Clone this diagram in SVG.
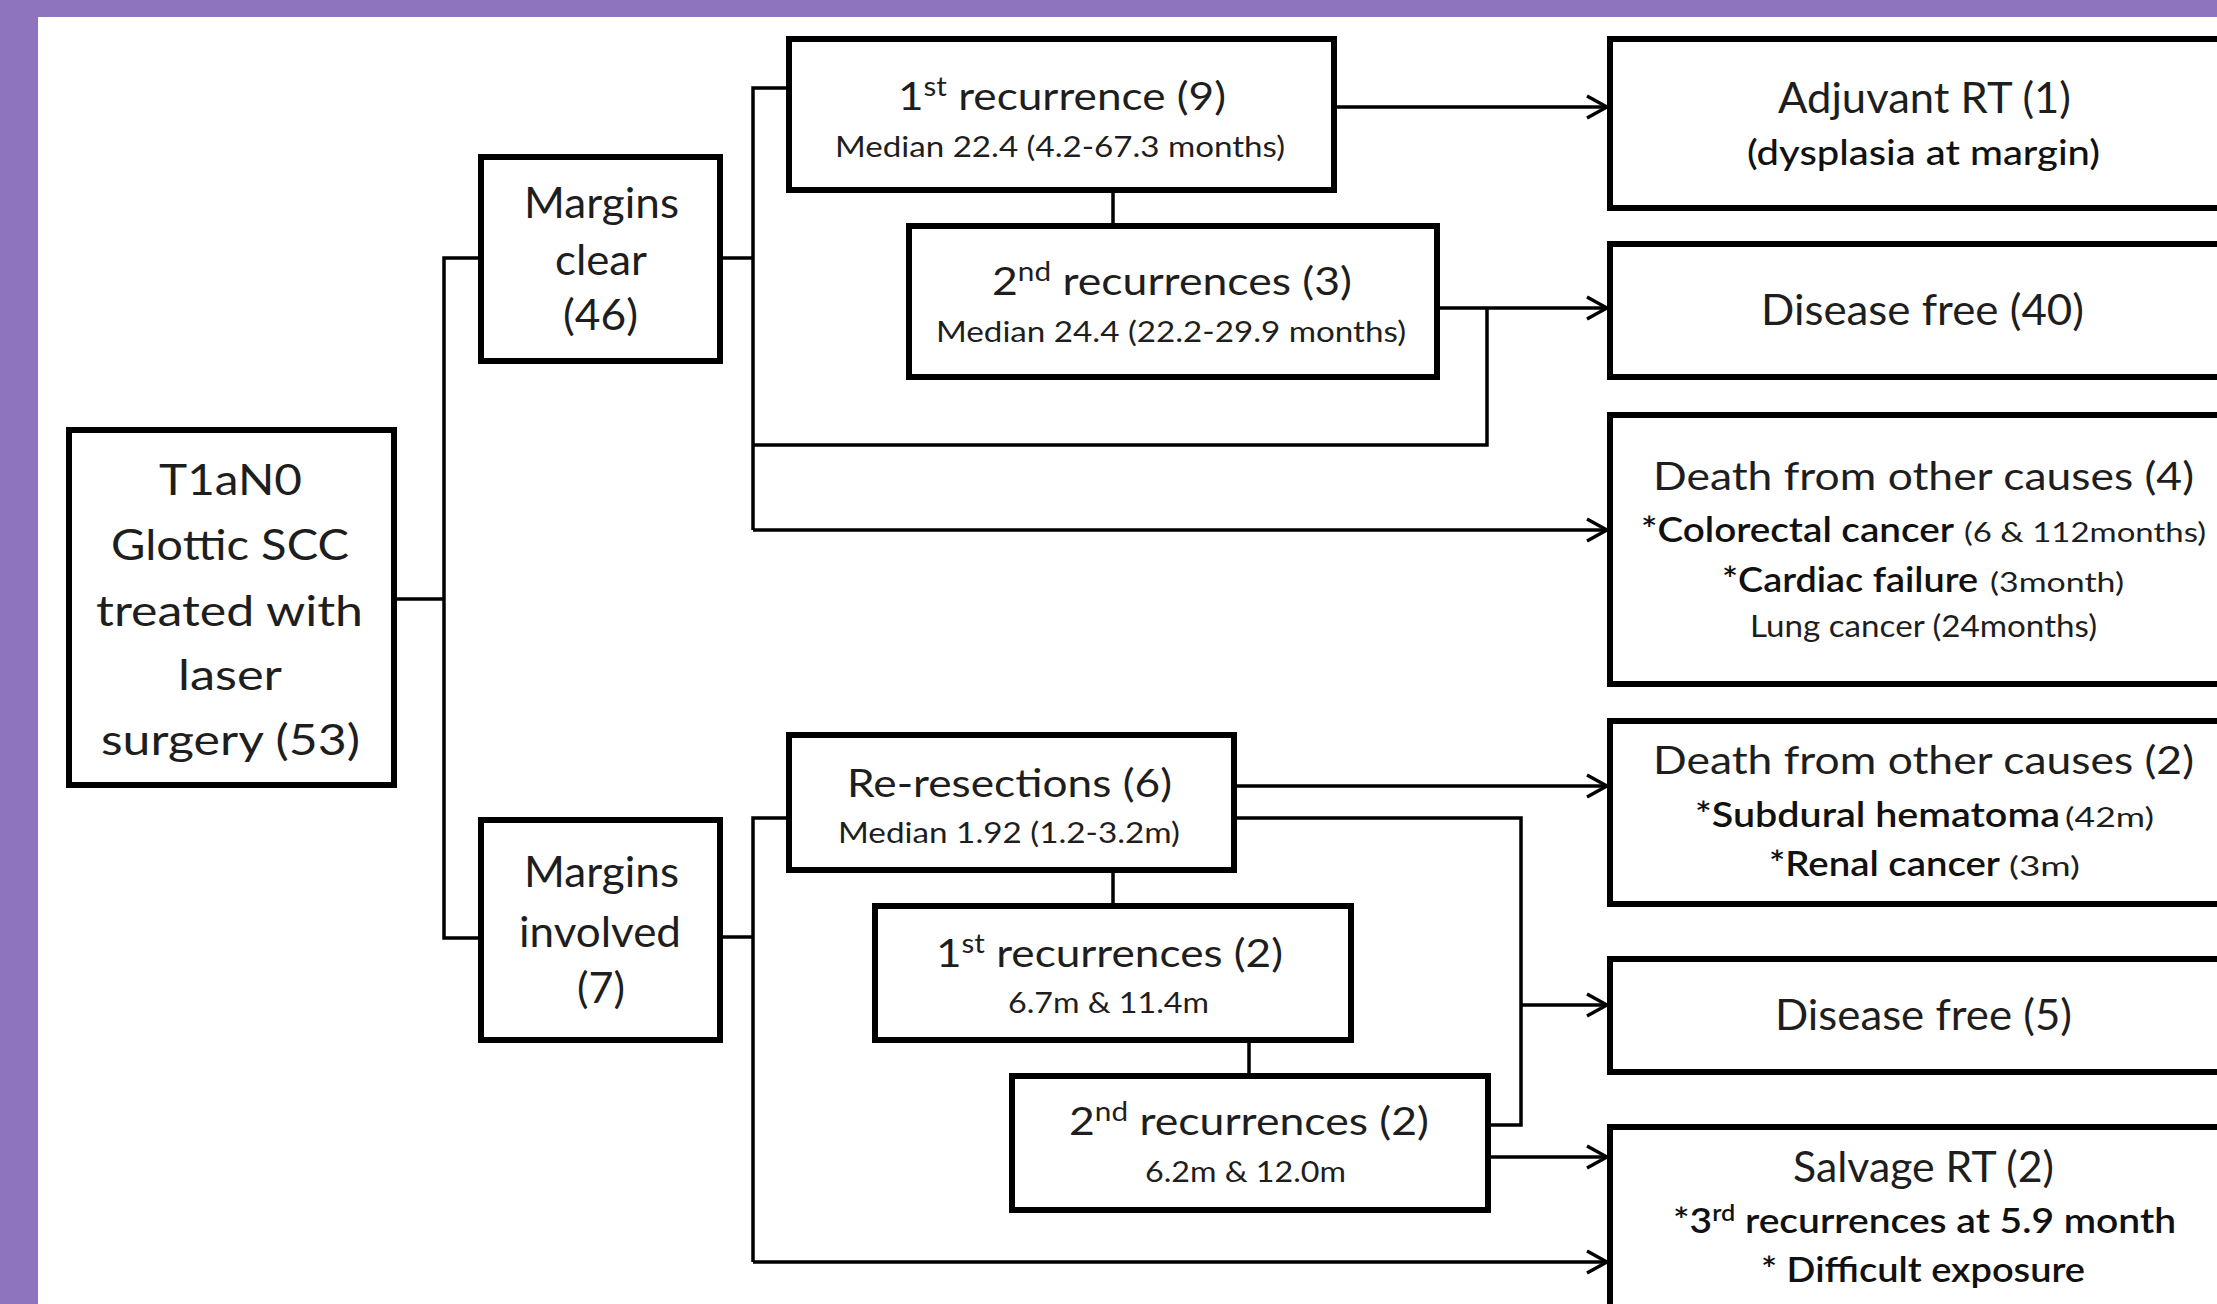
<svg xmlns="http://www.w3.org/2000/svg" width="2217" height="1304" viewBox="0 0 2217 1304">
<style>
.box{fill:#fff;stroke:#000;stroke-width:6}
.con{fill:none;stroke:#000;stroke-width:3.5}
.arr{fill:none;stroke:#000;stroke-width:3.5;marker-end:url(#ah)}
text{font-family:Lato,"Liberation Sans",sans-serif;fill:#1e1e1e}
.t{font-size:42px}
.h{font-size:39px}
.s{font-size:29px}
.b{font-size:34px;font-weight:600;fill:#111}
.m{font-size:34px;font-weight:500;fill:#111}
.p{font-size:27px}
</style>
<defs>
<marker id="ah" markerUnits="userSpaceOnUse" markerWidth="26" markerHeight="28" viewBox="-23 -14 26 28" refX="0" refY="0" orient="auto">
<path d="M-20,-11 L0,0 L-20,11" fill="none" stroke="#000" stroke-width="3.5"/>
</marker>
</defs>
<rect x="0" y="0" width="2217" height="1304" fill="#8E73BE"/>
<rect x="38" y="17" width="2179" height="1287" fill="#fff"/>

<g id="connectors">
<path class="con" d="M397,599 H444"/>
<path class="con" d="M478,258 H444 V938 H478"/>
<path class="con" d="M723,258 H753"/>
<path class="con" d="M786,88 H753 V530"/>
<path class="arr" d="M753,530 H1607"/>
<path class="con" d="M753,445 H1487 V308"/>
<path class="arr" d="M1440,308 H1607"/>
<path class="arr" d="M1337,107 H1607"/>
<path class="con" d="M1113,193 V223"/>
<path class="con" d="M723,937 H753"/>
<path class="con" d="M786,818 H753 V1262"/>
<path class="arr" d="M753,1262 H1607"/>
<path class="arr" d="M1237,786 H1607"/>
<path class="con" d="M1237,818 H1521 V1125 H1491"/>
<path class="arr" d="M1521,1005 H1607"/>
<path class="con" d="M1113,873 V903"/>
<path class="con" d="M1249,1043 V1073"/>
<path class="arr" d="M1491,1157 H1607"/>
</g>

<g id="root">
<rect class="box" x="69" y="430" width="325" height="355"/>
<text class="t" x="159" y="495" textLength="143" lengthAdjust="spacingAndGlyphs">T1aN0</text>
<text class="t" x="111" y="560" textLength="238" lengthAdjust="spacingAndGlyphs">Glottic SCC</text>
<text class="t" x="96" y="626" textLength="267" lengthAdjust="spacingAndGlyphs">treated with</text>
<text class="t" x="178" y="690" textLength="104" lengthAdjust="spacingAndGlyphs">laser</text>
<text class="t" x="101" y="755" textLength="259" lengthAdjust="spacingAndGlyphs">surgery (53)</text>
</g>

<g id="margins-clear">
<rect class="box" x="481" y="157" width="239" height="204"/>
<text class="t" x="524" y="218" textLength="155" lengthAdjust="spacingAndGlyphs">Margins</text>
<text class="t" x="555" y="275" textLength="92" lengthAdjust="spacingAndGlyphs">clear</text>
<text class="t" x="563" y="330" textLength="75" lengthAdjust="spacingAndGlyphs">(46)</text>
</g>

<g id="margins-involved">
<rect class="box" x="481" y="820" width="239" height="220"/>
<text class="t" x="524" y="887" textLength="155" lengthAdjust="spacingAndGlyphs">Margins</text>
<text class="t" x="519" y="947" textLength="162" lengthAdjust="spacingAndGlyphs">involved</text>
<text class="t" x="577" y="1003" textLength="48" lengthAdjust="spacingAndGlyphs">(7)</text>
</g>

<g id="first-recurrence">
<rect class="box" x="789" y="39" width="545" height="151"/>
<text class="h" x="898" y="110" textLength="328" lengthAdjust="spacingAndGlyphs">1<tspan font-size="26" dy="-14">st</tspan><tspan dy="14"> recurrence  (9)</tspan></text>
<text class="s" x="835" y="157" textLength="450" lengthAdjust="spacingAndGlyphs">Median 22.4 (4.2-67.3 months)</text>
</g>

<g id="second-recurrences">
<rect class="box" x="909" y="226" width="528" height="151"/>
<text class="h" x="992" y="295" textLength="360" lengthAdjust="spacingAndGlyphs">2<tspan font-size="26" dy="-14">nd</tspan><tspan dy="14"> recurrences  (3)</tspan></text>
<text class="s" x="936" y="342" textLength="470" lengthAdjust="spacingAndGlyphs">Median 24.4 (22.2-29.9 months)</text>
</g>

<g id="re-resections">
<rect class="box" x="789" y="735" width="445" height="135"/>
<text class="h" x="847" y="797" textLength="325" lengthAdjust="spacingAndGlyphs">Re-resections  (6)</text>
<text class="s" x="838" y="843" textLength="342" lengthAdjust="spacingAndGlyphs">Median 1.92 (1.2-3.2m)</text>
</g>

<g id="first-recurrences-involved">
<rect class="box" x="875" y="906" width="476" height="134"/>
<text class="h" x="936" y="967" textLength="347" lengthAdjust="spacingAndGlyphs">1<tspan font-size="26" dy="-14">st</tspan><tspan dy="14"> recurrences  (2)</tspan></text>
<text class="s" x="1008" y="1013" textLength="201" lengthAdjust="spacingAndGlyphs">6.7m &amp; 11.4m</text>
</g>

<g id="second-recurrences-involved">
<rect class="box" x="1012" y="1076" width="476" height="134"/>
<text class="h" x="1069" y="1135" textLength="360" lengthAdjust="spacingAndGlyphs">2<tspan font-size="26" dy="-14">nd</tspan><tspan dy="14"> recurrences  (2)</tspan></text>
<text class="s" x="1145" y="1182" textLength="201" lengthAdjust="spacingAndGlyphs">6.2m &amp; 12.0m</text>
</g>

<g id="adjuvant-rt">
<rect class="box" x="1610" y="39" width="640" height="169"/>
<text class="t" x="1778" y="113" textLength="293" lengthAdjust="spacingAndGlyphs">Adjuvant RT (1)</text>
<text class="m" x="1747" y="165" textLength="353" lengthAdjust="spacingAndGlyphs">(dysplasia at margin)</text>
</g>

<g id="disease-free-40">
<rect class="box" x="1610" y="244" width="640" height="133"/>
<text class="t" x="1761" y="325" textLength="323" lengthAdjust="spacingAndGlyphs">Disease free (40)</text>
</g>

<g id="death-4">
<rect class="box" x="1610" y="415" width="640" height="269"/>
<text class="h" x="1653" y="490" textLength="541" lengthAdjust="spacingAndGlyphs">Death from other causes (4)</text>
<text class="b" x="1641" y="542" textLength="313" lengthAdjust="spacingAndGlyphs">*Colorectal cancer</text>
<text class="p" x="1964" y="542" textLength="242" lengthAdjust="spacingAndGlyphs">(6 &amp; 112months)</text>
<text class="b" x="1722" y="592" textLength="256" lengthAdjust="spacingAndGlyphs">*Cardiac failure</text>
<text class="p" x="1990" y="592" textLength="134" lengthAdjust="spacingAndGlyphs">(3month)</text>
<text class="p" x="1750" y="637" textLength="347" lengthAdjust="spacingAndGlyphs" style="font-size:30px">Lung cancer (24months)</text>
</g>

<g id="death-2">
<rect class="box" x="1610" y="721" width="640" height="183"/>
<text class="h" x="1653" y="774" textLength="541" lengthAdjust="spacingAndGlyphs">Death from other causes (2)</text>
<text class="b" x="1695" y="827" textLength="365" lengthAdjust="spacingAndGlyphs">*Subdural hematoma</text>
<text class="p" x="2065" y="827" textLength="89" lengthAdjust="spacingAndGlyphs">(42m)</text>
<text class="b" x="1769" y="876" textLength="231" lengthAdjust="spacingAndGlyphs">*Renal cancer</text>
<text class="p" x="2009" y="876" textLength="71" lengthAdjust="spacingAndGlyphs">(3m)</text>
</g>

<g id="disease-free-5">
<rect class="box" x="1610" y="959" width="640" height="113"/>
<text class="t" x="1775" y="1030" textLength="297" lengthAdjust="spacingAndGlyphs">Disease free (5)</text>
</g>

<g id="salvage-rt">
<rect class="box" x="1610" y="1127" width="640" height="200"/>
<text class="t" x="1793" y="1182" textLength="261" lengthAdjust="spacingAndGlyphs">Salvage RT (2)</text>
<text class="b" x="1673" y="1233" textLength="503" lengthAdjust="spacingAndGlyphs">*3<tspan font-size="22" dy="-12">rd</tspan><tspan dy="12"> recurrences at 5.9 month</tspan></text>
<text class="b" x="1761" y="1282" textLength="324" lengthAdjust="spacingAndGlyphs">* Difficult exposure</text>
</g>
</svg>
